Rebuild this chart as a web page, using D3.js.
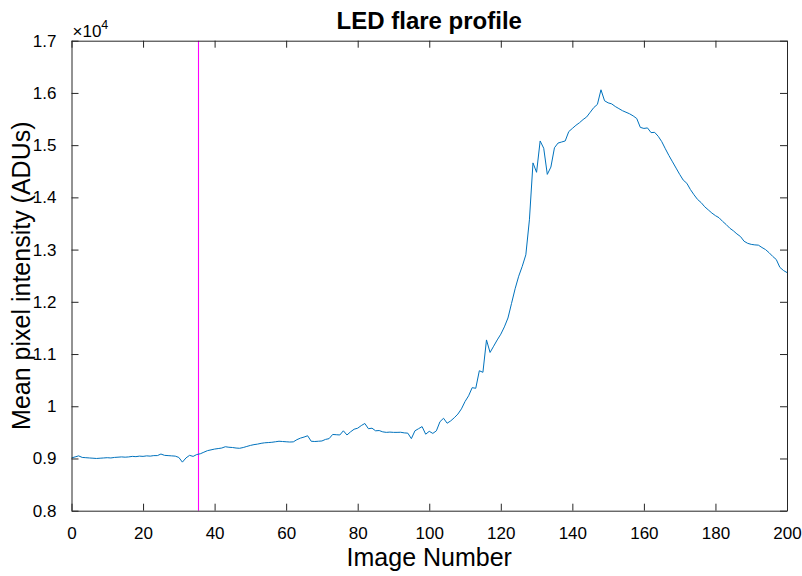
<!DOCTYPE html>
<html>
<head>
<meta charset="utf-8">
<script src="https://cdn.jsdelivr.net/npm/d3@7"></script>
<style>
  html, body { margin: 0; padding: 0; background: #fff; }
  svg { display: block; font-family: "Liberation Sans", Arial, Helvetica, sans-serif; }
</style>
</head>
<body>
<svg id="chart" width="802" height="576"></svg>
<script>
// Mean pixel intensity (ADUs) for each image, image 0 .. 200
const imageNumbers = d3.range(0, 201);
const meanIntensity = [
  9010, 9030, 9050, 9020, 9015, 9010, 9005, 9000, 9005, 9010,
  9015, 9010, 9020, 9025, 9030, 9025, 9030, 9040, 9035, 9045,
  9040, 9050, 9045, 9055, 9055, 9085, 9060, 9055, 9050, 9045,
  9020, 8930, 9010, 9060, 9040, 9075, 9090, 9120, 9150, 9165,
  9180, 9190, 9200, 9225, 9215, 9210, 9200, 9195, 9210, 9230,
  9250, 9265, 9275, 9290, 9300, 9305, 9310, 9320, 9330, 9325,
  9320, 9315, 9318, 9360, 9390, 9410, 9435, 9330, 9325, 9330,
  9335, 9365, 9380, 9460, 9455, 9450, 9530, 9450, 9510, 9560,
  9580, 9630, 9670, 9570, 9580, 9530, 9535, 9510, 9500, 9505,
  9500, 9500, 9502, 9490, 9485, 9380, 9530, 9570, 9610, 9465,
  9520, 9480, 9530, 9705, 9770, 9675, 9720, 9780, 9850, 9950,
  10090, 10200, 10356, 10344, 10680, 10650, 11270, 11030, 11150, 11270,
  11380, 11520, 11690, 11970, 12250, 12490, 12680, 12900, 13570, 14660,
  14480, 15080, 14940, 14440, 14580, 14950, 15040, 15060, 15080, 15260,
  15320, 15380, 15430, 15490, 15540, 15630, 15720, 15780, 16060, 15850,
  15810, 15790, 15740, 15700, 15660, 15630, 15600, 15560, 15510, 15340,
  15320, 15330, 15240, 15245, 15170, 15066, 14930, 14800, 14680, 14560,
  14440, 14330, 14270, 14150, 14050, 13960, 13900, 13820, 13760, 13700,
  13650, 13610, 13540, 13480, 13410, 13360, 13300, 13250, 13160, 13120,
  13100, 13090, 13085, 13040, 13000, 12940, 12870, 12810, 12660, 12600,
  12560
];
// Image where the flare onset is marked
const markerImage = [35.5];

const xTicks = [0, 20, 40, 60, 80, 100, 120, 140, 160, 180, 200];
const yTicks = [0.8, 0.9, 1.0, 1.1, 1.2, 1.3, 1.4, 1.5, 1.6, 1.7];
const yTickLabels = ["0.8", "0.9", "1", "1.1", "1.2", "1.3", "1.4", "1.5", "1.6", "1.7"];
const yScaleExponent = 4;

const svg = d3.select("#chart");
const margin = { left: 71.5, right: 802 - 787, top: 40.7, bottom: 576 - 510.7 };
const W = 802, H = 576;
const x0 = margin.left, x1 = W - margin.right, y0 = H - margin.bottom, y1 = margin.top;

const x = d3.scaleLinear().domain([0, 200]).range([x0, x1]);
// values are shown in units of 10^4
const y = d3.scaleLinear().domain([0.8, 1.7]).range([y0, y1]);

const axisColor = "#262626";
const tickLen = 7;
const tickFont = "17px";

// data line
const line = d3.line()
  .x((d, i) => x(imageNumbers[i]))
  .y(d => y(d / Math.pow(10, yScaleExponent)));

const g = svg.append("g");

// marker line
g.selectAll("line.marker").data(markerImage).enter().append("line")
  .attr("class", "marker")
  .attr("x1", d => x(d)).attr("x2", d => x(d))
  .attr("y1", y0).attr("y2", y1)
  .attr("stroke", "#FF00FF").attr("stroke-width", 1.1);

g.append("path")
  .datum(meanIntensity)
  .attr("d", line)
  .attr("fill", "none")
  .attr("stroke", "#0072BD")
  .attr("stroke-width", 1)
  .attr("stroke-linejoin", "round");

// bottom axis with inward ticks
const xAxis = d3.axisBottom(x).tickValues(xTicks).tickSizeInner(-tickLen).tickSizeOuter(0).tickPadding(9 + tickLen);
const gx = svg.append("g").attr("transform", `translate(0,${y0})`).call(xAxis);
// top axis ticks
const xAxisTop = d3.axisTop(x).tickValues(xTicks).tickSizeInner(-tickLen).tickSizeOuter(0).tickFormat("");
const gxt = svg.append("g").attr("transform", `translate(0,${y1})`).call(xAxisTop);

const yAxis = d3.axisLeft(y).tickValues(yTicks).tickSizeInner(-tickLen).tickSizeOuter(0)
  .tickPadding(8 + tickLen).tickFormat((d, i) => yTickLabels[i]);
const gy = svg.append("g").attr("transform", `translate(${x0},0)`).call(yAxis);
const yAxisRight = d3.axisRight(y).tickValues(yTicks).tickSizeInner(-tickLen).tickSizeOuter(0).tickFormat("");
const gyr = svg.append("g").attr("transform", `translate(${x1},0)`).call(yAxisRight);

[gx, gxt, gy, gyr].forEach(a => {
  a.select(".domain").attr("stroke", axisColor).attr("stroke-width", 1);
  a.selectAll(".tick line").attr("stroke", axisColor).attr("stroke-width", 1);
  a.selectAll(".tick text").attr("fill", "#000").style("font-size", tickFont)
    .style("font-family", "'Liberation Sans', Arial, sans-serif");
});

// exponent label
const expText = svg.append("text")
  .attr("x", x0 + 1).attr("y", y1 - 4)
  .attr("fill", "#000")
  .style("font-size", "17px");
expText.append("tspan").text("\u00d710");
expText.append("tspan").attr("dy", -8).style("font-size", "12.5px").text(yScaleExponent);

// title
svg.append("text")
  .attr("x", (x0 + x1) / 2).attr("y", 29)
  .attr("text-anchor", "middle")
  .attr("fill", "#000")
  .style("font-size", "24px").style("font-weight", "bold")
  .text("LED flare profile");

// axis labels
svg.append("text")
  .attr("x", (x0 + x1) / 2).attr("y", 566)
  .attr("text-anchor", "middle")
  .attr("fill", "#000")
  .style("font-size", "25px")
  .text("Image Number");

svg.append("text")
  .attr("transform", `translate(30,${(y0 + y1) / 2}) rotate(-90)`)
  .attr("text-anchor", "middle")
  .attr("fill", "#000")
  .style("font-size", "25px")
  .text("Mean pixel intensity (ADUs)");
</script>
</body>
</html>
